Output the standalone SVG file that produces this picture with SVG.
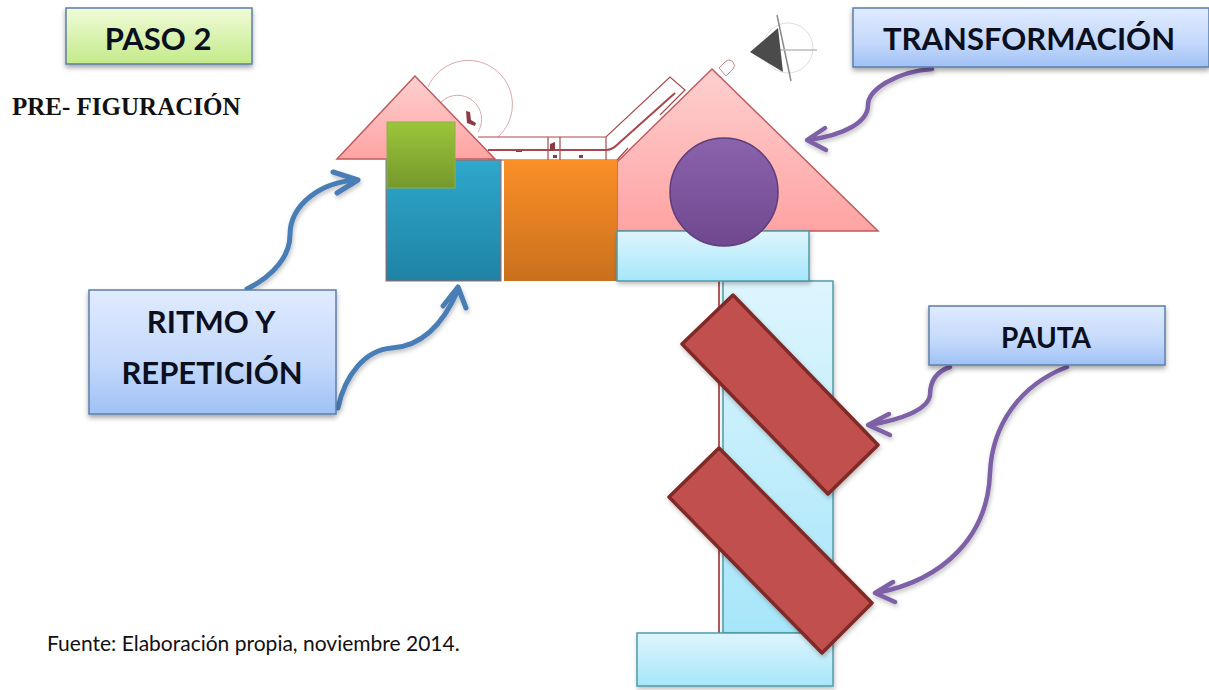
<svg xmlns="http://www.w3.org/2000/svg" width="1209" height="690" viewBox="0 0 1209 690">
<style>
.lbl{font-family:"Lato","Liberation Sans",sans-serif;font-weight:700;fill:#0b0f1e;text-anchor:middle}
.box{stroke:#5b7fa8;stroke-width:1.5;filter:url(#sh)}
.blue{fill:url(#gBox)}
.arr{fill:none;stroke-linecap:round;stroke-linejoin:round;filter:url(#sh2)}
.b{stroke:#4a7db5;stroke-width:5}
.p{stroke:#7d60a6;stroke-width:4.5}
.thin{fill:none;stroke:#a8484e;stroke-width:1.2}
.arc{fill:none;stroke:#d9a9ac;stroke-width:1}
.red{fill:#c0504d;stroke:#7f2a28;stroke-width:3.5;stroke-linejoin:round;filter:url(#sh2)}
.pale{stroke:#4f9aa8;stroke-width:1.5}
</style>
<defs>
<filter id="sh" x="-10%" y="-20%" width="120%" height="145%"><feDropShadow dx="0" dy="3" stdDeviation="2.5" flood-color="#000" flood-opacity=".35"/></filter>
<filter id="sh2" x="-15%" y="-15%" width="130%" height="130%"><feDropShadow dx="1" dy="2.5" stdDeviation="2" flood-color="#000" flood-opacity=".25"/></filter>
<linearGradient id="gBox" x1="0" y1="0" x2="0" y2="1"><stop offset="0" stop-color="#e0ebff"/><stop offset=".6" stop-color="#c3d8fb"/><stop offset="1" stop-color="#9fc1f5"/></linearGradient>
<linearGradient id="gGreen" x1="0" y1="0" x2="0" y2="1"><stop offset="0" stop-color="#f1fbd8"/><stop offset="1" stop-color="#c3ea8a"/></linearGradient>
<linearGradient id="gPink" x1="0" y1="0" x2="0" y2="1"><stop offset="0" stop-color="#fdd0cf"/><stop offset="1" stop-color="#ffa3a3"/></linearGradient>
<linearGradient id="gTeal" x1="0" y1="0" x2="0" y2="1"><stop offset="0" stop-color="#2ea8cb"/><stop offset="1" stop-color="#1f83a5"/></linearGradient>
<linearGradient id="gOrange" x1="0" y1="0" x2="0" y2="1"><stop offset="0" stop-color="#fb8f27"/><stop offset="1" stop-color="#c9701d"/></linearGradient>
<linearGradient id="gLeaf" x1="0" y1="0" x2="0" y2="1"><stop offset="0" stop-color="#9bc53a"/><stop offset="1" stop-color="#76982c"/></linearGradient>
<linearGradient id="gPale" x1="0" y1="0" x2="0" y2="1"><stop offset="0" stop-color="#def5fd"/><stop offset="1" stop-color="#a6e6fa"/></linearGradient>
<linearGradient id="gPurple" x1="0" y1="0" x2="0" y2="1"><stop offset="0" stop-color="#8a63ad"/><stop offset="1" stop-color="#70488f"/></linearGradient>
</defs>

<g id="drawing-lines">
<path class="arc" d="M428 87A44 44 0 1 1 498 137"/>
<path class="arc" d="M441 102A24 24 0 0 1 478 132"/>
<path fill="#8c3a44" d="M466 111l4 1 1 8 5 3 -1 3 -8 -3z"/>
<path class="thin" d="M478 137H606L670 77L685 90L660 115M488 160H617M548 137V160M560 137V160M606 137V160M617 160L628 148"/>
<path fill="none" stroke="#a8484e" stroke-width="2" d="M488 150H606Q612 150 618 144L675 93"/>
<path fill="#fff" stroke="#c98a8e" d="M719 68l6 -6q4 -4 8 0q3 4 0 7l-7 7z"/>
<path fill="#8c3a44" d="M550 144l5 -2 0 8 -5 1zM553 155h4v3h-4zM516 151h6v1h-6zM579 155h4v3h-4z"/>
</g>
<g id="compass">
<circle cx="788" cy="48" r="25" fill="none" stroke="#ddd" stroke-width="1"/>
<path d="M777 15L791 81" stroke="#8a8a8a" stroke-width="1.5"/>
<path d="M778 50H817" stroke="#bbb" stroke-width="1.5"/>
<path fill="#4b4b4b" d="M750 52L778 28L783 72Z"/>
</g>
<g id="roof-left"><polygon points="415,76 337,159 495,159" fill="url(#gPink)" stroke="#be5a5e" stroke-width="1.5"/></g>
<g id="roof-right"><polygon points="617,162 712,69 878,231 617,231" fill="url(#gPink)" stroke="#be5a5e" stroke-width="1.5"/></g>
<g id="block-teal"><rect x="386" y="160" width="115" height="121" fill="url(#gTeal)" stroke="#b2605f" stroke-width="1"/></g>
<g id="block-orange"><rect x="504" y="160" width="113" height="121" fill="url(#gOrange)"/></g>
<g id="block-green"><rect x="387" y="122" width="68" height="66" fill="url(#gLeaf)" stroke="#8fb04a" stroke-width="1"/></g>
<g id="column">
<path d="M719 281V633" stroke="#b0595c" stroke-width="2"/>
<rect x="723" y="281" width="110" height="352" fill="url(#gPale)" class="pale" filter="url(#sh2)"/>
</g>
<g id="beam"><rect x="617" y="231" width="192" height="50" fill="url(#gPale)" class="pale" filter="url(#sh2)"/></g>
<g id="circle"><circle cx="724" cy="192" r="54" fill="url(#gPurple)" stroke="#5d3d7a" stroke-width="1.5"/></g>
<g id="base"><rect x="637" y="633" width="196" height="53" fill="url(#gPale)" class="pale" filter="url(#sh2)"/></g>
<g id="bar-1"><polygon class="red" points="733,295 878,445 828,494 682,344"/></g>
<g id="bar-2"><polygon class="red" points="719,448 872,603 822,653 669,497"/></g>

<g id="connectors">
<path class="arr b" d="M247 289C275 275 290 255 290 235C290 205 320 182 357 180M333 172L358 180L337 193"/>
<path class="arr b" d="M338 408C345 375 365 350 392 348C425 346 445 320 458 290M443 306L458 287L466 308"/>
<path class="arr p" d="M932 69C895 72 868 90 868 105C868 122 845 135 808 140M825 128L807 140L826 150"/>
<path class="arr p" d="M950 367C935 372 930 382 930 395C928 410 900 420 869 425M889 414L868 425L890 435"/>
<path class="arr p" d="M1067 367C1020 385 992 425 990 473C988 535 945 580 876 593M893 582L875 593L895 602"/>
</g>

<g id="paso"><rect class="box" x="66" y="8" width="186" height="56" fill="url(#gGreen)" stroke="#9bb55e"/><text class="lbl" x="158" y="50" font-size="31">PASO 2</text></g>
<g id="pre"><text x="12" y="115" font-family="Liberation Serif,serif" font-weight="700" font-size="25" fill="#111">PRE- FIGURACIÓN</text></g>
<g id="transformacion"><rect class="box blue" x="853" y="8" width="356" height="59"/><text class="lbl" x="1029" y="50" font-size="31">TRANSFORMACIÓN</text></g>
<g id="ritmo"><rect class="box blue" x="89" y="290" width="247" height="124"/><text class="lbl" x="211" y="333" font-size="31">RITMO Y</text><text class="lbl" x="212" y="384" font-size="31">REPETICIÓN</text></g>
<g id="pauta"><rect class="box blue" x="929" y="306" width="236" height="59"/><text class="lbl" x="1046" y="348" font-size="28">PAUTA</text></g>
<g id="fuente"><text x="47" y="651" font-family="Lato,Liberation Sans,sans-serif" font-size="21" fill="#111">Fuente: Elaboración propia, noviembre 2014.</text></g>
</svg>
